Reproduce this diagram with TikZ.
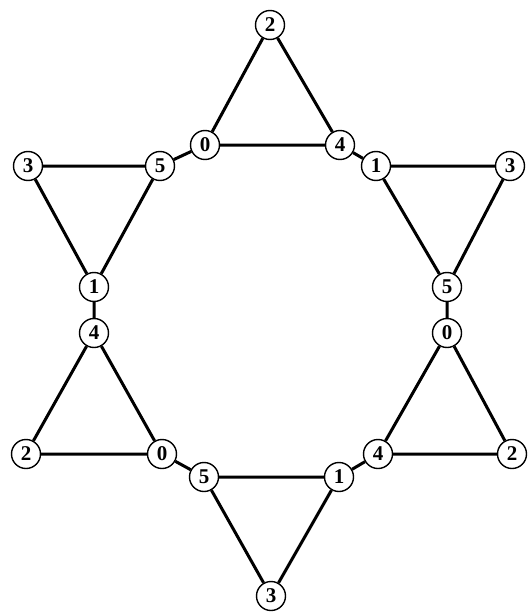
\documentclass[tikz,border=0pt]{standalone}
\usepackage{fontspec}
\setmainfont{Liberation Serif}
\begin{document}
\begin{tikzpicture}[x=1pt,y=-1pt,
  vtx/.style={circle,draw=black,line width=1.4pt,fill=white,minimum size=29pt,inner sep=0pt,font=\fontsize{21}{21}\selectfont\bfseries},
  edge/.style={line width=3pt,black}]
\useasboundingbox (0,0) rectangle (531,615);
% top triangle
\node[vtx] (t2) at (270,25) {2};
\node[vtx] (t0) at (205,145) {0};
\node[vtx] (t4) at (340,145) {4};
% upper left
\node[vtx] (a3) at (28,166) {3};
\node[vtx] (a5) at (160,166) {5};
\node[vtx] (a1) at (94,287) {1};
% upper right
\node[vtx] (b1) at (376,166) {1};
\node[vtx] (b3) at (510,166) {3};
\node[vtx] (b5) at (447,287) {5};
% lower left
\node[vtx] (c4) at (94,333) {4};
\node[vtx] (c2) at (26,454) {2};
\node[vtx] (c0) at (162,454) {0};
% bottom
\node[vtx] (d5) at (204,477) {5};
\node[vtx] (d1) at (339,477) {1};
\node[vtx] (d3) at (271,596) {3};
% lower right
\node[vtx] (e0) at (447,333) {0};
\node[vtx] (e4) at (378,454) {4};
\node[vtx] (e2) at (512,454) {2};
\draw[edge] (t2) -- (t0) (t0) -- (t4) (t4) -- (t2);
\draw[edge] (a3) -- (a5) (a5) -- (a1) (a1) -- (a3);
\draw[edge] (b1) -- (b3) (b3) -- (b5) (b5) -- (b1);
\draw[edge] (c4) -- (c2) (c2) -- (c0) (c0) -- (c4);
\draw[edge] (d5) -- (d1) (d1) -- (d3) (d3) -- (d5);
\draw[edge] (e0) -- (e4) (e4) -- (e2) (e2) -- (e0);
\draw[edge] (a5) -- (t0) (t4) -- (b1) (a1) -- (c4) (b5) -- (e0) (c0) -- (d5) (d1) -- (e4);
\end{tikzpicture}
\end{document}
